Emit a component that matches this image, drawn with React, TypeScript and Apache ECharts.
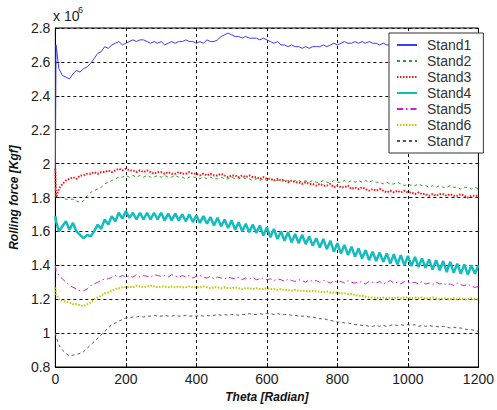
import React, { useEffect, useRef } from "react";
import * as echarts from "echarts";

// Sample positions (radian): 0, 2, then every 10 up to 1200
const theta: number[] = [0, 2, ...Array.from({ length: 120 }, (_, i) => (i + 1) * 10)];

const xTicks = [0, 200, 400, 600, 800, 1000, 1200];
const yTicks = [0.8, 1, 1.2, 1.4, 1.6, 1.8, 2, 2.2, 2.4, 2.6, 2.8];

// Rolling force values in units of 10^6 Kgf
const stand1 = [1.95, 2.70,
  2.56, 2.52, 2.51, 2.50, 2.53, 2.55, 2.54, 2.56, 2.57, 2.59,
  2.62, 2.65, 2.66, 2.69, 2.68, 2.70, 2.71, 2.72, 2.70, 2.71,
  2.72, 2.73, 2.72, 2.73, 2.73, 2.72, 2.71, 2.72, 2.71, 2.72,
  2.70, 2.71, 2.72, 2.71, 2.72, 2.72, 2.73, 2.72, 2.72, 2.71,
  2.72, 2.71, 2.73, 2.72, 2.72, 2.73, 2.75, 2.76, 2.77, 2.76,
  2.75, 2.75, 2.74, 2.75, 2.74, 2.74, 2.74, 2.73, 2.74, 2.73,
  2.72, 2.71, 2.72, 2.70, 2.70, 2.69, 2.70, 2.69, 2.69, 2.68,
  2.69, 2.68, 2.69, 2.69, 2.69, 2.70, 2.69, 2.70, 2.71, 2.70,
  2.71, 2.72, 2.71, 2.71, 2.72, 2.71, 2.72, 2.71, 2.72, 2.71,
  2.71, 2.70, 2.71, 2.70, 2.70, 2.69, 2.70, 2.69, 2.69, 2.69,
  2.69, 2.68, 2.69, 2.68, 2.68, 2.69, 2.68, 2.68, 2.67, 2.68,
  2.67, 2.68, 2.67, 2.67, 2.68, 2.67, 2.67, 2.66, 2.67, 2.67];

const stand2 = [1.86, 1.81,
  1.80, 1.80, 1.79, 1.79, 1.79, 1.78, 1.77, 1.78, 1.81, 1.83,
  1.84, 1.85, 1.86, 1.88, 1.89, 1.90, 1.91, 1.92, 1.92, 1.93,
  1.92, 1.93, 1.92, 1.93, 1.92, 1.93, 1.92, 1.92, 1.93, 1.92,
  1.93, 1.92, 1.92, 1.93, 1.92, 1.92, 1.91, 1.92, 1.92, 1.92,
  1.91, 1.92, 1.91, 1.92, 1.91, 1.91, 1.92, 1.91, 1.91, 1.92,
  1.91, 1.91, 1.92, 1.91, 1.91, 1.90, 1.91, 1.90, 1.91, 1.90,
  1.91, 1.90, 1.90, 1.91, 1.90, 1.90, 1.89, 1.90, 1.90, 1.89,
  1.90, 1.89, 1.90, 1.89, 1.89, 1.90, 1.89, 1.89, 1.90, 1.89,
  1.89, 1.90, 1.89, 1.90, 1.89, 1.90, 1.89, 1.90, 1.89, 1.90,
  1.89, 1.89, 1.88, 1.89, 1.88, 1.88, 1.89, 1.88, 1.87, 1.88,
  1.87, 1.87, 1.88, 1.87, 1.87, 1.86, 1.87, 1.86, 1.87, 1.86,
  1.86, 1.87, 1.86, 1.86, 1.85, 1.86, 1.86, 1.85, 1.86, 1.85];

const stand3 = [1.97, 1.80,
  1.85, 1.88, 1.90, 1.91, 1.92, 1.91, 1.93, 1.93, 1.94, 1.94,
  1.95, 1.94, 1.95, 1.95, 1.96, 1.95, 1.96, 1.97, 1.96, 1.97,
  1.96, 1.96, 1.95, 1.96, 1.95, 1.96, 1.95, 1.94, 1.95, 1.95,
  1.94, 1.95, 1.94, 1.94, 1.95, 1.94, 1.94, 1.95, 1.94, 1.94,
  1.93, 1.94, 1.93, 1.94, 1.93, 1.93, 1.94, 1.93, 1.92, 1.93,
  1.93, 1.92, 1.93, 1.92, 1.93, 1.92, 1.92, 1.91, 1.92, 1.91,
  1.91, 1.90, 1.91, 1.90, 1.90, 1.89, 1.90, 1.89, 1.89, 1.88,
  1.89, 1.88, 1.88, 1.87, 1.88, 1.87, 1.87, 1.88, 1.86, 1.87,
  1.86, 1.86, 1.87, 1.85, 1.86, 1.85, 1.86, 1.85, 1.84, 1.85,
  1.84, 1.85, 1.84, 1.83, 1.84, 1.83, 1.84, 1.83, 1.84, 1.83,
  1.83, 1.82, 1.83, 1.82, 1.82, 1.81, 1.82, 1.81, 1.82, 1.82,
  1.81, 1.82, 1.81, 1.81, 1.82, 1.81, 1.80, 1.81, 1.81, 1.81];

const stand4 = [1.69, 1.66,
  1.60, 1.63, 1.66, 1.61, 1.65, 1.60, 1.58, 1.56, 1.58, 1.57,
  1.60, 1.64, 1.615, 1.67, 1.64, 1.69, 1.66, 1.71, 1.675, 1.72,
  1.68, 1.71, 1.67, 1.71, 1.67, 1.71, 1.67, 1.71, 1.67, 1.71,
  1.665, 1.705, 1.665, 1.705, 1.665, 1.70, 1.66, 1.70, 1.655, 1.695,
  1.65, 1.69, 1.645, 1.685, 1.635, 1.68, 1.63, 1.67, 1.62, 1.665,
  1.61, 1.655, 1.60, 1.645, 1.595, 1.64, 1.59, 1.635, 1.575, 1.625,
  1.565, 1.615, 1.555, 1.60, 1.545, 1.595, 1.535, 1.585, 1.53, 1.58,
  1.525, 1.57, 1.515, 1.56, 1.505, 1.555, 1.495, 1.545, 1.48, 1.53,
  1.47, 1.52, 1.46, 1.51, 1.45, 1.50, 1.44, 1.49, 1.43, 1.48,
  1.425, 1.475, 1.42, 1.47, 1.41, 1.465, 1.405, 1.46, 1.40, 1.455,
  1.395, 1.45, 1.39, 1.44, 1.385, 1.435, 1.375, 1.43, 1.37, 1.425,
  1.36, 1.42, 1.355, 1.41, 1.35, 1.405, 1.345, 1.40, 1.35, 1.40];

const stand5 = [1.40, 1.37,
  1.34, 1.32, 1.30, 1.28, 1.27, 1.26, 1.25, 1.25, 1.26, 1.28,
  1.29, 1.30, 1.31, 1.32, 1.32, 1.33, 1.34, 1.33, 1.34, 1.33,
  1.34, 1.33, 1.345, 1.33, 1.34, 1.335, 1.33, 1.345, 1.34, 1.335,
  1.34, 1.33, 1.345, 1.335, 1.33, 1.34, 1.33, 1.34, 1.325, 1.335,
  1.34, 1.33, 1.325, 1.335, 1.32, 1.33, 1.325, 1.32, 1.33, 1.325,
  1.32, 1.33, 1.315, 1.325, 1.32, 1.33, 1.315, 1.32, 1.325, 1.315,
  1.32, 1.31, 1.32, 1.315, 1.305, 1.32, 1.31, 1.305, 1.315, 1.31,
  1.30, 1.315, 1.305, 1.31, 1.30, 1.31, 1.305, 1.295, 1.31, 1.30,
  1.305, 1.295, 1.31, 1.30, 1.295, 1.305, 1.30, 1.29, 1.305, 1.30,
  1.295, 1.305, 1.29, 1.30, 1.31, 1.295, 1.30, 1.29, 1.305, 1.30,
  1.295, 1.30, 1.29, 1.305, 1.29, 1.295, 1.285, 1.30, 1.29, 1.295,
  1.285, 1.29, 1.28, 1.295, 1.285, 1.28, 1.29, 1.275, 1.27, 1.275];

const stand6 = [1.27, 1.23,
  1.20, 1.19, 1.185, 1.18, 1.17, 1.17, 1.165, 1.16, 1.17, 1.18,
  1.20, 1.21, 1.22, 1.235, 1.24, 1.25, 1.26, 1.265, 1.27, 1.27,
  1.275, 1.27, 1.28, 1.275, 1.27, 1.275, 1.28, 1.275, 1.27, 1.275,
  1.275, 1.27, 1.275, 1.27, 1.275, 1.27, 1.27, 1.275, 1.27, 1.27,
  1.27, 1.275, 1.27, 1.265, 1.27, 1.27, 1.265, 1.27, 1.265, 1.265,
  1.27, 1.265, 1.26, 1.265, 1.265, 1.26, 1.265, 1.26, 1.26, 1.265,
  1.26, 1.26, 1.255, 1.26, 1.255, 1.255, 1.25, 1.255, 1.25, 1.25,
  1.25, 1.245, 1.25, 1.245, 1.245, 1.24, 1.245, 1.24, 1.24, 1.24,
  1.235, 1.235, 1.23, 1.23, 1.225, 1.22, 1.22, 1.215, 1.21, 1.21,
  1.21, 1.205, 1.21, 1.205, 1.21, 1.205, 1.21, 1.205, 1.21, 1.21,
  1.205, 1.21, 1.205, 1.21, 1.205, 1.205, 1.21, 1.205, 1.20, 1.205,
  1.205, 1.20, 1.205, 1.20, 1.205, 1.20, 1.20, 1.205, 1.20, 1.20];

const stand7 = [1.00, 0.98,
  0.93, 0.90, 0.88, 0.865, 0.87, 0.875, 0.88, 0.89, 0.91, 0.93,
  0.95, 0.97, 0.99, 1.01, 1.03, 1.05, 1.06, 1.07, 1.08, 1.09,
  1.09, 1.095, 1.095, 1.10, 1.095, 1.10, 1.10, 1.105, 1.10, 1.10,
  1.105, 1.10, 1.10, 1.105, 1.10, 1.10, 1.105, 1.10, 1.10, 1.10,
  1.105, 1.10, 1.105, 1.10, 1.105, 1.11, 1.105, 1.11, 1.105, 1.11,
  1.11, 1.105, 1.11, 1.11, 1.115, 1.11, 1.11, 1.115, 1.11, 1.115,
  1.115, 1.11, 1.115, 1.11, 1.11, 1.11, 1.105, 1.105, 1.10, 1.10,
  1.10, 1.095, 1.095, 1.09, 1.085, 1.085, 1.08, 1.075, 1.07, 1.065,
  1.065, 1.06, 1.06, 1.055, 1.05, 1.05, 1.045, 1.045, 1.04, 1.04,
  1.045, 1.04, 1.045, 1.04, 1.045, 1.05, 1.045, 1.05, 1.045, 1.05,
  1.045, 1.05, 1.04, 1.045, 1.04, 1.045, 1.04, 1.04, 1.035, 1.04,
  1.035, 1.03, 1.035, 1.03, 1.03, 1.025, 1.02, 1.02, 1.015, 1.01];

const seriesNames = ["Stand1", "Stand2", "Stand3", "Stand4", "Stand5", "Stand6", "Stand7"];
const seriesValues = [stand1, stand2, stand3, stand4, stand5, stand6, stand7];

const FONT = "'Liberation Sans', Arial, sans-serif";

const lineStyles: any[] = [
  { color: "#3c3cff", width: 1, type: "solid" },
  { color: "#2f9a2f", width: 1, type: [3, 3] },
  { color: "#ff1414", width: 2, type: [1.5, 1.5] },
  { color: "#13bdbd", width: 2.5, type: "solid" },
  { color: "#cc1fcc", width: 1, type: [6, 3, 1.5, 3] },
  { color: "#c4c400", width: 2, type: [1.5, 1.5] },
  { color: "#555555", width: 1, type: [3, 3] },
];

export default function App() {
  const ref = useRef<HTMLDivElement>(null);
  useEffect(() => {
    if (!ref.current) return;
    const chart = echarts.init(ref.current, undefined, { renderer: "svg" });
    const series = seriesNames.map((name, k) => ({
      name,
      type: "line",
      data: theta.map((t, i) => [t, seriesValues[k][i]]),
      symbol: "none",
      showSymbol: false,
      lineStyle: lineStyles[k],
      itemStyle: { color: lineStyles[k].color },
      z: 2 + k,
    }));
    chart.setOption({
      animation: false,
      backgroundColor: "#ffffff",
      grid: {
        left: 53,
        right: 12,
        top: 28,
        bottom: 43,
        show: true,
        borderColor: "#000",
        borderWidth: 1,
        backgroundColor: "transparent",
      },
      xAxis: {
        type: "value",
        min: xTicks[0],
        max: xTicks[xTicks.length - 1],
        interval: 200,
        name: "Theta [Radian]",
        nameLocation: "middle",
        nameGap: 21,
        nameTextStyle: { fontFamily: FONT, fontSize: 12, fontWeight: "bold", fontStyle: "italic", color: "#111" },
        axisLine: { show: true, lineStyle: { color: "#000", width: 1 } },
        axisTick: { show: true, inside: true, length: 4, lineStyle: { color: "#000" } },
        axisLabel: { fontFamily: FONT, fontSize: 14, color: "#222", margin: 5, formatter: (v: number) => String(v) },
        splitLine: { show: true, lineStyle: { color: "#111", type: [3, 3], width: 1 } },
      },
      yAxis: {
        type: "value",
        min: yTicks[0],
        max: yTicks[yTicks.length - 1],
        interval: 0.2,
        name: "Rolling force [Kgf]",
        nameLocation: "middle",
        nameGap: 33,
        nameTextStyle: { fontFamily: FONT, fontSize: 12, fontWeight: "bold", fontStyle: "italic", color: "#111" },
        axisLine: { show: true, lineStyle: { color: "#000", width: 1 } },
        axisTick: { show: true, inside: true, length: 4, lineStyle: { color: "#000" } },
        axisLabel: { fontFamily: FONT, fontSize: 14, color: "#222", margin: 5, formatter: (v: number) => String(Math.round(v * 10) / 10) },
        splitLine: { show: true, lineStyle: { color: "#111", type: [3, 3], width: 1 } },
      },
      legend: {
        show: true,
        orient: "vertical",
        left: 389,
        top: 33,
        padding: [5, 12, 5, 7],
        itemWidth: 20,
        itemHeight: 10,
        itemGap: 2,
        backgroundColor: "#ffffff",
        borderColor: "#333",
        borderWidth: 1,
        itemStyle: { color: "transparent", borderColor: "transparent", borderWidth: 0, opacity: 0 },
        textStyle: { fontFamily: FONT, fontSize: 14, color: "#333", lineHeight: 14, padding: [0, 0, 0, 5] },
        data: seriesNames,
        z: 20,
      },
      graphic: [
        {
          type: "text",
          left: 53,
          top: 9,
          style: { text: "x 10", font: `14px ${FONT}`, fill: "#222" },
        },
        {
          type: "text",
          left: 78,
          top: 5,
          style: { text: "6", font: `9px ${FONT}`, fill: "#222" },
        },
      ],
      series,
    });
    return () => chart.dispose();
  }, []);
  return (
    <div
      ref={ref}
      style={{ position: "absolute", left: 0, top: 0, width: 497, height: 410, background: "#fff" }}
    />
  );
}
